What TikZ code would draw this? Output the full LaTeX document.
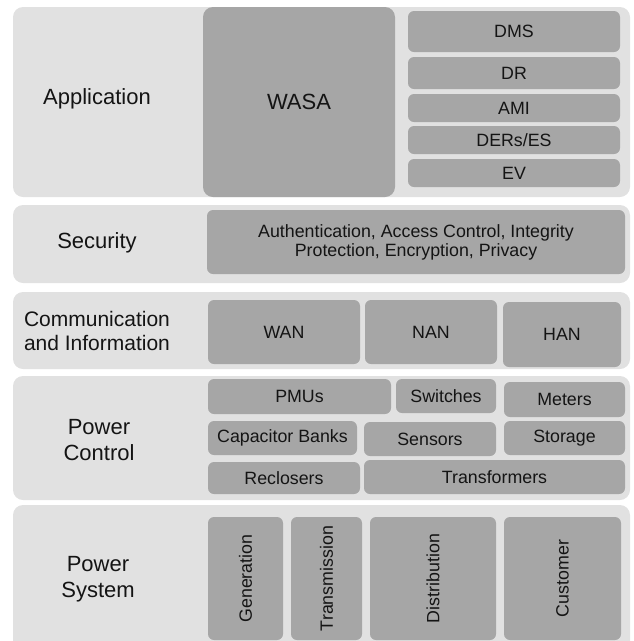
\documentclass[tikz,border=0pt]{standalone}
\usepackage{fontspec}
\setmainfont{Liberation Sans}
\definecolor{layerfill}{HTML}{E1E1E1}
\definecolor{boxfill}{HTML}{A6A6A6}
\definecolor{txt}{HTML}{141414}
\tikzset{
  layer/.style={fill=layerfill, draw=none, rounded corners=10pt, inner sep=0pt, outer sep=0pt},
  blk/.style={fill=boxfill, draw=none, rounded corners=6pt, inner sep=0pt, outer sep=0pt,
    text=txt, align=center, font=\fontsize{17.8}{19}\selectfont},
  bigblk/.style={blk, rounded corners=10pt, font=\fontsize{22}{26}\selectfont},
  title/.style={text=txt, align=center, inner sep=0pt, font=\fontsize{22}{26}\selectfont},
  vlabel/.style={text=txt, rotate=90, inner sep=0pt, font=\fontsize{17.8}{19}\selectfont}
}
% \region{name}{x1}{y1}{x2}{y2}{style}{text}: a box spanning two corners
\newcommand\region[7]{%
  \node[#6, minimum width={(#4)-(#2)}, minimum height={(#5)-(#3)}]
    (#1) at ({((#2)+(#4))/2},{((#3)+(#5))/2}) {#7};}
\begin{document}
\begin{tikzpicture}[x=1pt, y=-1pt]
\useasboundingbox (0,0) rectangle (633,641);
\clip (0,0) rectangle (633,641);

% layers
\region{app}{13}{7}{630}{197}{layer}{}
\region{sec}{13}{205}{630}{283}{layer}{}
\region{com}{13}{292}{630}{369}{layer}{}
\region{pc}{13}{376}{630}{500}{layer}{}
\region{ps}{13}{505}{630}{665}{layer}{}

% layer titles
\node[title] (tapp) at (97,99) {Application};
\node[title] (tsec) at (97,243) {Security};
\node[title, align=left, font=\fontsize{21}{24}\selectfont] (tcom) at (97,331) {Communication\\and Information};
\node[title] (tpc) at (99,440) {Power\\Control};
\node[title] (tps) at (98,579) {Power\\System};

% application
\region{wasa}{203}{7}{395}{197}{bigblk}{WASA}
\region{dms}{408}{11}{620}{52}{blk}{DMS}
\region{dr}{408}{57}{620}{89}{blk}{DR}
\region{ami}{408}{94}{620}{122}{blk}{AMI}
\region{ders}{408}{126}{620}{154}{blk}{DERs/ES}
\region{ev}{408}{159}{620}{187}{blk}{EV}

% security
\region{secbox}{207}{210}{625}{274}{blk}{Authentication, Access Control, Integrity\\Protection, Encryption, Privacy}

% communication and information
\region{wan}{208}{300}{360}{364}{blk}{WAN}
\region{nan}{365}{300}{497}{364}{blk}{NAN}
\region{han}{503}{302}{621}{367}{blk}{HAN}

% power control
\region{pmu}{208}{379}{391}{414}{blk}{PMUs}
\region{sw}{396}{379}{496}{413}{blk}{Switches}
\region{met}{504}{382}{625}{417}{blk}{Meters}
\region{cap}{208}{421}{357}{455}{blk}{Capacitor Banks}
\region{sen}{364}{422}{496}{456}{blk}{Sensors}
\region{sto}{504}{421}{625}{455}{blk}{Storage}
\region{rec}{208}{462}{360}{494}{blk}{Reclosers}
\region{tra}{364}{460}{625}{494}{blk}{Transformers}

% power system
\region{gen}{208}{517}{283}{640}{blk}{}
\region{tsm}{291}{517}{362}{640}{blk}{}
\region{dis}{370}{517}{496}{640}{blk}{}
\region{cus}{504}{517}{621}{640}{blk}{}
\node[vlabel] (lgen) at (gen) {Generation};
\node[vlabel] (ltsm) at (tsm) {Transmission};
\node[vlabel] (ldis) at (dis) {Distribution};
\node[vlabel] (lcus) at (cus) {Customer};
\end{tikzpicture}
\end{document}
